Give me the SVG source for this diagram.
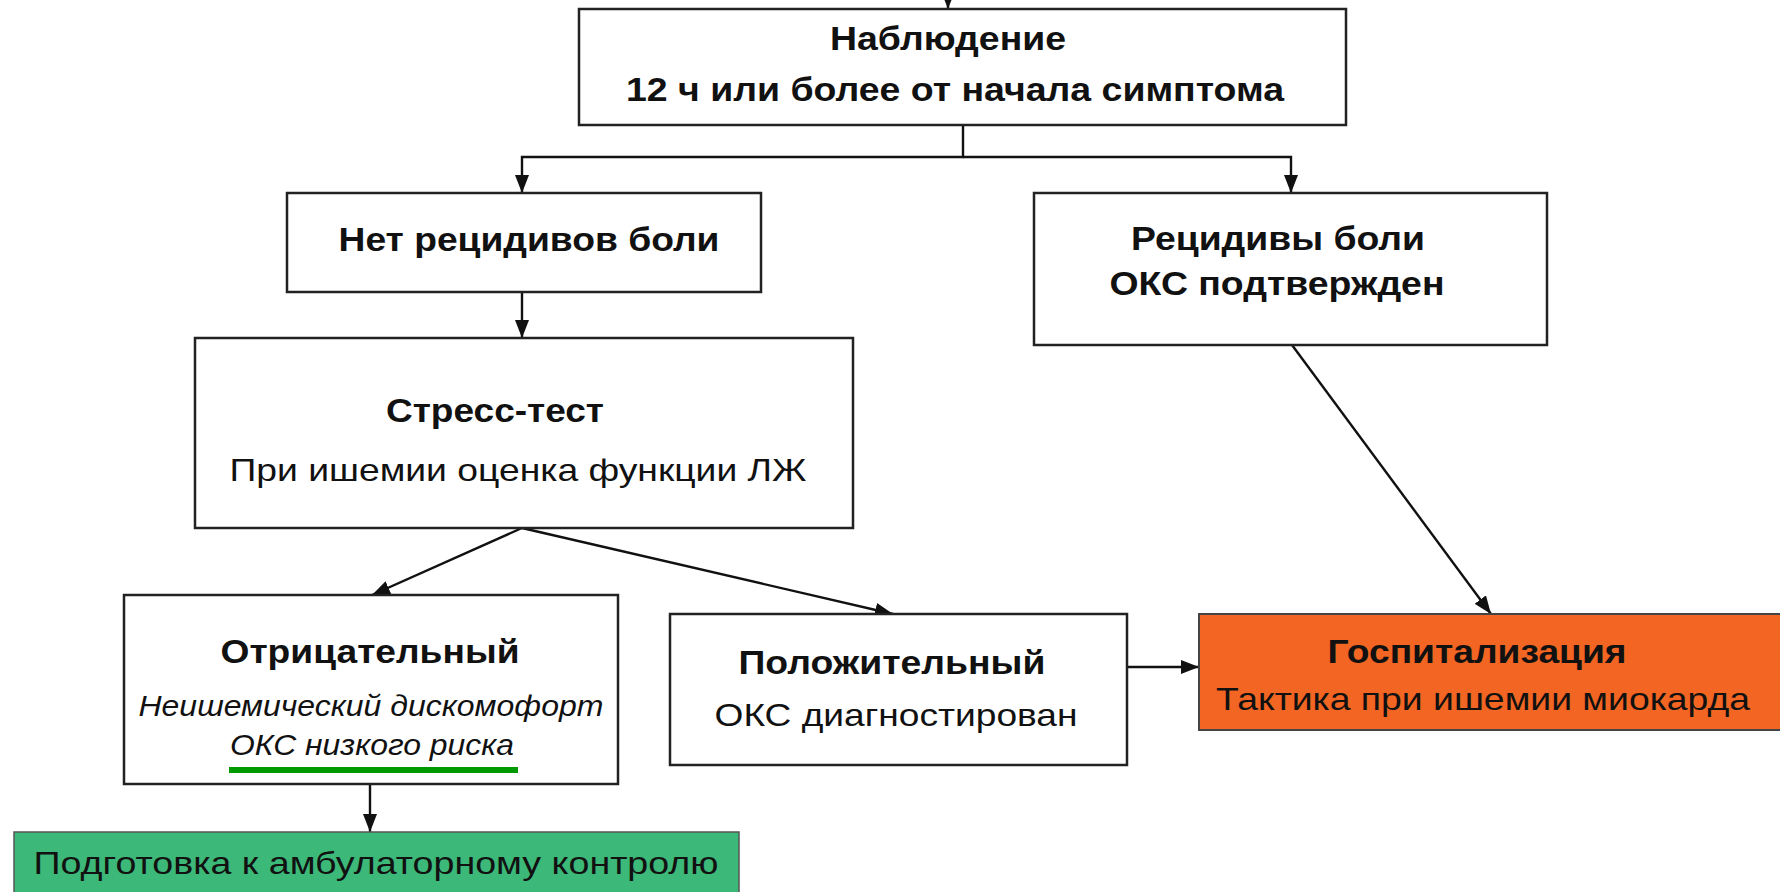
<svg xmlns="http://www.w3.org/2000/svg" width="1780" height="892" viewBox="0 0 1780 892">
<style>
.box{fill:#fff;stroke:#222;stroke-width:2.5}
.t{font-family:"Liberation Sans",Arial,sans-serif;fill:#111;text-anchor:middle}
.b{font-weight:bold;font-size:34px}
.r{font-size:32px}
.i{font-style:italic;font-size:29px}
.c{stroke:#111;stroke-width:2.4;fill:none}
</style>
<defs>
<marker id="ah" viewBox="0 0 18 14" refX="18" refY="7" markerWidth="18" markerHeight="14" markerUnits="userSpaceOnUse" orient="auto">
<path d="M0,0 L18,7 L0,14 Z" fill="#111"/>
</marker>
</defs>
<rect width="1780" height="892" fill="#fff"/>
<g id="connectors">
<line class="c" x1="948" y1="-8" x2="948" y2="9" marker-end="url(#ah)"/>
<polyline class="c" points="963,125 963,157 522,157 522,193" marker-end="url(#ah)"/>
<polyline class="c" points="963,157 1291,157 1291,193" marker-end="url(#ah)"/>
<line class="c" x1="522" y1="292" x2="522" y2="338" marker-end="url(#ah)"/>
<line class="c" x1="1292" y1="345" x2="1491" y2="614" marker-end="url(#ah)"/>
<line class="c" x1="522" y1="528" x2="372" y2="595" marker-end="url(#ah)"/>
<line class="c" x1="522" y1="528" x2="893" y2="614" marker-end="url(#ah)"/>
<line class="c" x1="370" y1="784" x2="370" y2="832" marker-end="url(#ah)"/>
<line class="c" x1="1127" y1="667" x2="1199" y2="667" marker-end="url(#ah)"/>
</g>
<g id="observation">
<rect class="box" x="579" y="9" width="767" height="116"/>
<text class="t b" x="948" y="50" textLength="236" lengthAdjust="spacingAndGlyphs">Наблюдение</text>
<text class="t b" x="955" y="101" textLength="658" lengthAdjust="spacingAndGlyphs">12 ч или более от начала симптома</text>
</g>
<g id="no-recurrence">
<rect class="box" x="287" y="193" width="474" height="99"/>
<text class="t b" x="529" y="251" textLength="381" lengthAdjust="spacingAndGlyphs">Нет рецидивов боли</text>
</g>
<g id="recurrence">
<rect class="box" x="1034" y="193" width="513" height="152"/>
<text class="t b" x="1278" y="250" textLength="294" lengthAdjust="spacingAndGlyphs">Рецидивы боли</text>
<text class="t b" x="1277" y="295" textLength="335" lengthAdjust="spacingAndGlyphs">ОКС подтвержден</text>
</g>
<g id="stress-test">
<rect class="box" x="195" y="338" width="658" height="190"/>
<text class="t b" x="495" y="422" textLength="218" lengthAdjust="spacingAndGlyphs">Стресс-тест</text>
<text class="t r" x="518" y="481" textLength="577" lengthAdjust="spacingAndGlyphs">При ишемии оценка функции ЛЖ</text>
</g>
<g id="negative">
<rect class="box" x="124" y="595" width="494" height="189"/>
<text class="t b" x="370" y="663" textLength="299" lengthAdjust="spacingAndGlyphs">Отрицательный</text>
<text class="t i" x="371" y="716" textLength="465" lengthAdjust="spacingAndGlyphs">Неишемический дискомофорт</text>
<text class="t i" x="372" y="755" textLength="284" lengthAdjust="spacingAndGlyphs">ОКС низкого риска</text>
<rect x="229" y="767" width="289" height="6" fill="#009900"/>
</g>
<g id="positive">
<rect class="box" x="670" y="614" width="457" height="151"/>
<text class="t b" x="892" y="674" textLength="307" lengthAdjust="spacingAndGlyphs">Положительный</text>
<text class="t r" x="896" y="726" textLength="363" lengthAdjust="spacingAndGlyphs">ОКС диагностирован</text>
</g>
<g id="hospitalization">
<rect x="1199" y="614" width="590" height="116" fill="#f26522" stroke="#444" stroke-width="2"/>
<text class="t b" x="1477" y="663" textLength="299" lengthAdjust="spacingAndGlyphs">Госпитализация</text>
<text class="t r" x="1483" y="710" textLength="534" lengthAdjust="spacingAndGlyphs">Тактика при ишемии миокарда</text>
</g>
<g id="outpatient">
<rect x="14" y="832" width="725" height="70" fill="#3cb878" stroke="#555" stroke-width="1.5"/>
<text class="t r" x="376" y="874" textLength="685" lengthAdjust="spacingAndGlyphs">Подготовка к амбулаторному контролю</text>
</g>
</svg>
